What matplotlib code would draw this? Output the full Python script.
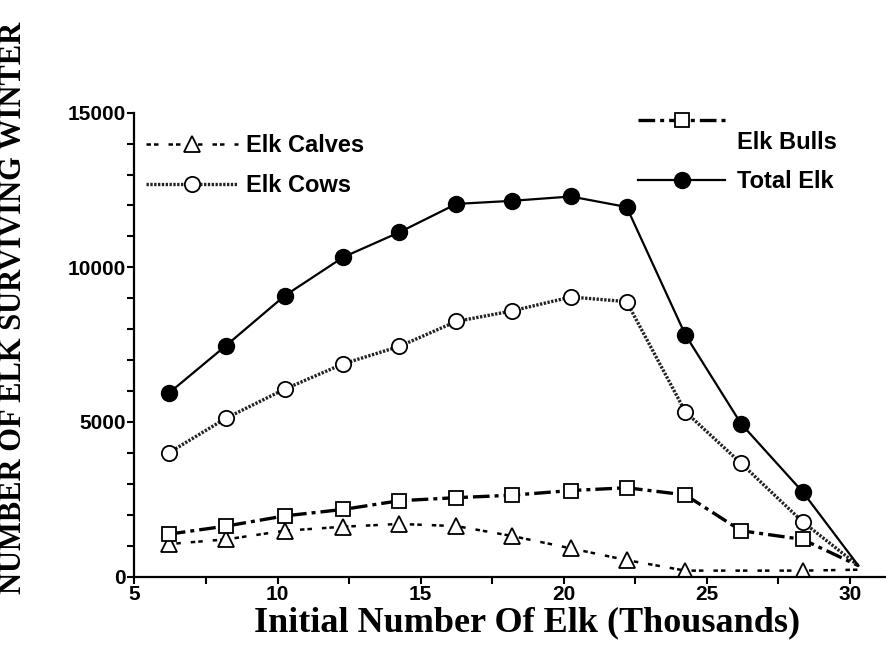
import matplotlib
matplotlib.use("Agg")
import matplotlib.pyplot as plt
from matplotlib.legend_handler import HandlerLine2D
import numpy as np

# valeurs (milliers d'elans au depart / survivants)
x_init = [6.2, 8.2, 10.25, 12.3, 14.25, 16.25, 18.2, 20.25, 22.2, 24.25, 26.2, 28.35, 30.3]
total_elk = [5930, 7470, 9080, 10330, 11130, 12050, 12150, 12290, 11950, 7820, 4940, 2740, 350]
elk_cows = [4000, 5120, 6060, 6880, 7440, 8250, 8590, 9040, 8890, 5330, 3660, 1770, 350]
elk_bulls = [1370, 1630, 1960, 2170, 2450, 2550, 2630, 2780, 2870, 2640, 1480, 1200, 350]
# pas de triangle a 26.2 sur l'original
x_calves = [6.2, 8.2, 10.25, 12.3, 14.25, 16.25, 18.2, 20.25, 22.2, 24.25, 28.35, 30.3]
elk_calves = [1050, 1200, 1480, 1610, 1700, 1630, 1310, 910, 530, 190, 190, 220]

x_ticks = [5, 10, 15, 20, 25, 30]
y_ticks = [0, 5000, 10000, 15000]

sans = ["Liberation Sans", "DejaVu Sans"]
serif = "Liberation Serif"


class RaisedLine(HandlerLine2D):
    # sur l'original le trait des "Elk Bulls" est au-dessus du texte
    def create_artists(self, legend, orig_handle, xdescent, ydescent,
                       width, height, fontsize, trans):
        arts = super().create_artists(legend, orig_handle, xdescent, ydescent,
                                      width, height, fontsize, trans)
        for a in arts:
            a.set_ydata(np.asarray(a.get_ydata()) + 15)
        return arts


W, H = 887, 657
fig = plt.figure(figsize=(W / 100, H / 100), dpi=100)
ax = fig.add_axes([134.5 / W, (H - 576.5) / H, 1 - 134.5 / W, (576.5 - 112.7) / H])

ms = 11
mew = 1.3
# le dernier point (convergence) n'a pas de symbole
l_calves, = ax.plot(x_calves, elk_calves, color="black", lw=1.8,
                    linestyle=(0, (1.8, 1.2, 1.8, 4)),
                    marker="^", ms=ms, mfc="white", mec="black", mew=mew,
                    markevery=list(range(len(x_calves) - 1)), label="Elk Calves")
l_bulls, = ax.plot(x_init, elk_bulls, color="black", lw=2.4,
                   linestyle=(0, (5, 1.5, 1.2, 1.5)),
                   marker="s", ms=10.5, mfc="white", mec="black", mew=mew,
                   markevery=list(range(len(x_init) - 1)), label="Elk Bulls")
l_cows, = ax.plot(x_init, elk_cows, color="#222222", lw=2.4,
                  linestyle=(0, (0.7, 0.45)),
                  marker="o", ms=ms, mfc="white", mec="black", mew=mew,
                  markevery=list(range(len(x_init) - 1)), label="Elk Cows")
l_total, = ax.plot(x_init, total_elk, color="black", lw=1.6,
                   marker="o", ms=11.5, mfc="black", mec="black",
                   markevery=list(range(len(x_init) - 1)), label="Total Elk")

ax.set_xlim(5, 31.3)
ax.set_ylim(0, 15000)
ax.spines["top"].set_visible(False)
ax.spines["right"].set_visible(False)
ax.spines["left"].set_linewidth(1.6)
ax.spines["bottom"].set_linewidth(1.6)

ax.set_xticks(x_ticks)
ax.set_xticks(np.arange(7.5, 30.1, 5), minor=True)
ax.set_yticks(y_ticks)
ax.set_yticks([v for v in range(1000, 15000, 1000) if v % 5000], minor=True)
ax.tick_params(which="both", direction="out", length=5, width=1.5, color="black")
ax.tick_params(axis="y", which="major", pad=1.5)
ax.tick_params(axis="x", which="major", pad=1)
for lab in ax.get_xticklabels() + ax.get_yticklabels():
    lab.set_fontfamily(sans)
    lab.set_fontweight("bold")
    lab.set_fontsize(15)

fig.text(14 / W, (H - 308) / H, "NUMBER OF ELK SURVIVING WINTER", rotation=90,
         ha="center", va="center", fontsize=22, fontweight="bold", family=serif)
fig.text((225 + 830) / 2 / W, (H - 606.5) / H, "Initial Number Of Elk (Thousands)",
         ha="center", va="top", fontsize=26, fontweight="bold", family=serif)

leg_font = {"family": sans, "weight": "bold", "size": 17}
leg1 = ax.legend([l_calves, l_cows], ["Elk Calves", "Elk Cows"],
                 loc="upper left", bbox_to_anchor=(146 / W, (H - 134) / H),
                 bbox_transform=fig.transFigure, frameon=False, prop=leg_font,
                 numpoints=1, handlelength=3.9, handletextpad=0.35,
                 labelspacing=0.72, borderpad=0, borderaxespad=0)
ax.add_artist(leg1)
ax.legend([l_bulls, l_total], ["Elk Bulls", "Total Elk"],
          loc="upper left", bbox_to_anchor=(638 / W, (H - 131) / H),
          bbox_transform=fig.transFigure, frameon=False, prop=leg_font,
          numpoints=1, handlelength=3.7, handletextpad=0.5,
          labelspacing=0.68, borderpad=0, borderaxespad=0,
          handler_map={l_bulls: RaisedLine()})

fig.savefig("out.png", dpi=100, facecolor="white")
